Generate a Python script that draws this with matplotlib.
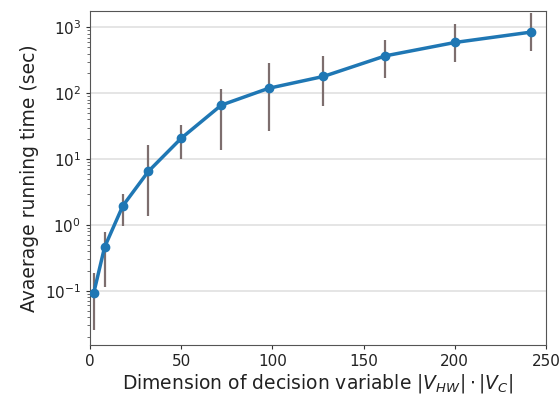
import numpy as np
import matplotlib
matplotlib.use("Agg")
import matplotlib.pyplot as plt

# problem size |V_HW|*|V_C| and measured running times (sec)
dims = [2, 8, 18, 32, 50, 72, 98, 128, 162, 200, 242]
mean_time = [0.091, 0.46, 1.95, 6.5, 20.7, 66, 119, 180, 370, 590, 850]
low_time = [0.025, 0.115, 0.95, 1.37, 10, 13.8, 27, 64, 172, 297, 435]
high_time = [0.186, 0.78, 3.0, 16.2, 33, 117, 290, 365, 650, 1120, 1650]

mean_time = np.array(mean_time)
yerr = [mean_time - np.array(low_time), np.array(high_time) - mean_time]

fig = plt.figure(figsize=(5.6, 4), dpi=100)
ax = fig.add_axes([0.1607, 0.1375, 0.8143, 0.834])

ax.errorbar(dims, mean_time, yerr=yerr, fmt='none', ecolor='#7d6e6e', elinewidth=1.6, zorder=2)
ax.plot(dims, mean_time, '-o', color='#1f77b4', linewidth=2.5, markersize=6, zorder=3)

ax.set_yscale('log')
ax.set_xlim(0, 250)
ax.set_ylim(0.015, 1750)
ax.yaxis.grid(True, which='major', color='#e0e0e0', linewidth=1.2)
ax.set_axisbelow(True)
for s in ax.spines.values():
    s.set_color('#555555')
ax.tick_params(colors='#333333', labelsize=11, labelcolor='#222222', length=3, width=0.8)
ax.tick_params(which='minor', colors='#555555', length=2, width=0.6)

ax.set_xlabel(r'Dimension of decision variable $|V_{HW}|\cdot|V_C|$', fontsize=13.5, color='#222222', labelpad=2)
ax.set_ylabel('Avaerage running time (sec)', fontsize=13.5, color='#222222')

plt.savefig('out.png', dpi=100)
